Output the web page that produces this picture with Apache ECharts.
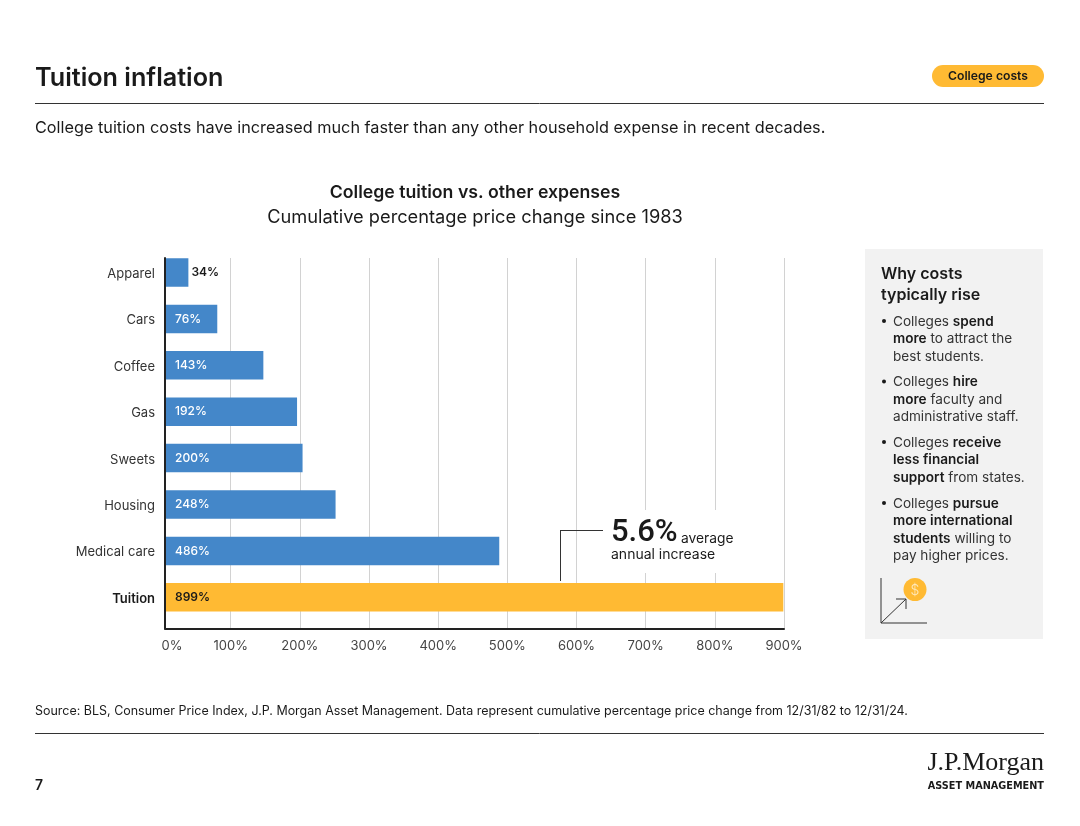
<!DOCTYPE html>
<html>
<head>
<meta charset="utf-8">
<title>Tuition inflation</title>
<script src="https://cdn.jsdelivr.net/npm/echarts@6/dist/echarts.min.js"></script>
<style>
  html, body { margin: 0; padding: 0; background: #fff; }
  #main { width: 1080px; height: 826px; }
</style>
</head>
<body>
<div id="main"></div>
<script>
var categories = ['Apparel', 'Cars', 'Coffee', 'Gas', 'Sweets', 'Housing', 'Medical care', 'Tuition'];
var values = [34, 76, 143, 192, 200, 248, 486, 899];
var tickValues = [0, 100, 200, 300, 400, 500, 600, 700, 800, 900];

var pageTitle = 'Tuition inflation';
var tagText = 'College costs';
var subtitle = 'College tuition costs have increased much faster than any other household expense in recent decades.';
var chartTitle = 'College tuition vs. other expenses';
var chartSubtitle = 'Cumulative percentage price change since 1983';
var sourceText = 'Source: BLS, Consumer Price Index, J.P. Morgan Asset Management. Data represent cumulative percentage price change from 12/31/82 to 12/31/24.';
var sideTitle = 'Why costs\ntypically rise';
// {b|..} is the bold run of each bullet
var sideBullets = [
    'Colleges {b|spend}\n{b|more} to attract the\nbest students.',
    'Colleges {b|hire}\n{b|more} faculty and\nadministrative staff.',
    'Colleges {b|receive}\n{b|less financial}\n{b|support} from states.',
    'Colleges {b|pursue}\n{b|more international}\n{b|students} willing to\npay higher prices.'
];

var FONT = 'Inter';
var INK = '#1a1a1a';
var BLUE = '#4487c9';
var YELLOW = '#ffba33';

var barData = values.map(function (v, i) {
    var label = { show: true, position: 'insideLeft', distance: 10, padding: [2, 0, 0, 0], color: '#fff', fontFamily: FONT, fontSize: 12, fontWeight: 500, formatter: '{c}%' };
    var item = { value: v, itemStyle: { color: BLUE }, label: label };
    if (categories[i] === 'Tuition') {
        item.itemStyle.color = YELLOW;
        label.color = INK;
        label.fontWeight = 600;
    }
    if (categories[i] === 'Apparel') {
        label.position = 'right';
        label.distance = 3;
        label.color = INK;
        label.fontWeight = 600;
    }
    return item;
});

function text(x, y, str, size, weight, extra) {
    var style = { x: x, y: y, text: str, fontFamily: FONT, fontSize: size, fontWeight: weight, fill: INK, textVerticalAlign: 'middle' };
    for (var k in extra) {
        style[k] = extra[k];
    }
    return { type: 'text', z: 5, style: style };
}

function seg(x1, y1, x2, y2) {
    return { type: 'line', z: 5, shape: { x1: x1, y1: y1, x2: x2, y2: y2 }, style: { stroke: '#333', lineWidth: 1 } };
}

var bulletTops = [313, 373.5, 434, 495];
var graphics = [
    text(35, 78, pageTitle, 25.2, 600),
    { type: 'rect', z: 5, shape: { x: 932, y: 65, width: 112, height: 22, r: 11 }, style: { fill: YELLOW } },
    text(988, 76.5, tagText, 12.2, 600, { textAlign: 'center' }),
    seg(35, 103.5, 1044, 103.5),
    text(35, 128, subtitle, 16.25, 400),
    text(475, 193, chartTitle, 17.7, 600, { textAlign: 'center' }),
    text(475, 218, chartSubtitle, 18.25, 400, { textAlign: 'center' }),

    // white patch behind the callout, hides the gridlines
    { type: 'rect', z: 1, shape: { x: 604, y: 510, width: 134, height: 63 }, style: { fill: '#fff' } },
    seg(560.5, 530.5, 603, 530.5),
    seg(560.5, 530, 560.5, 581),
    text(611, 533, '5.6%', 31, 500, { fontFamily: 'Roboto' }),
    text(681, 539, 'average', 13.8, 400),
    text(611, 555, 'annual increase', 14, 400),

    { type: 'rect', z: 4, shape: { x: 865, y: 249, width: 178, height: 390 }, style: { fill: '#f2f2f2' } },
    text(881, 284.5, sideTitle, 16, 600, { lineHeight: 21.5 }),

    // chart icon
    seg(881, 578, 881, 623),
    seg(881, 623, 927, 623),
    seg(881, 623, 906, 599),
    seg(896, 599, 906, 599),
    seg(906, 599, 906, 609),
    { type: 'circle', z: 5, shape: { cx: 915, cy: 589.5, r: 11.5 }, style: { fill: YELLOW } },
    text(915, 590.5, '$', 14, 300, { textAlign: 'center', fill: '#ffeac2' }),

    text(35, 711, sourceText, 12.47, 400),
    seg(35, 733.5, 1044, 733.5),
    text(35, 785.5, '7', 14, 600),
    text(1044, 763, 'J.P.Morgan', 26, 400, { textAlign: 'right', fontFamily: 'Liberation Serif' }),
    text(1044, 786, 'ASSET MANAGEMENT', 10.8, 700, { textAlign: 'right', fontFamily: 'DejaVu Sans Condensed' })
];

sideBullets.forEach(function (b, i) {
    graphics.push({ type: 'circle', z: 5, shape: { cx: 884, cy: bulletTops[i] + 8, r: 2 }, style: { fill: INK } });
    graphics.push({
        type: 'text',
        z: 5,
        style: {
            x: 893,
            y: bulletTops[i],
            rich: {
                b: { fontFamily: FONT, fontSize: 13.6, fontWeight: 600, fill: INK, lineHeight: 17.5 }
            },
            text: b,
            fontFamily: FONT,
            fontSize: 13.6,
            lineHeight: 17.5,
            fill: '#333'
        }
    });
});

var chartDom = document.getElementById('main');
var myChart = echarts.init(chartDom);
var option = {
    animation: false,
    textStyle: { fontFamily: FONT },
    // grid 0 holds the bars, grid 1 the gridlines and tick labels (the source has them slightly out of step)
    grid: [
        { left: 165, width: 619, top: 249.3, height: 371.2 },
        { left: 161.5, width: 622.5, top: 258, height: 370.5 }
    ],
    xAxis: [
        {
            gridIndex: 0,
            type: 'value',
            min: 0,
            max: 900,
            offset: 8,
            z: 3,
            axisLine: { show: true, lineStyle: { color: '#222', width: 2 } },
            axisTick: { show: false },
            axisLabel: { show: false },
            splitLine: { show: false }
        },
        {
            gridIndex: 1,
            type: 'value',
            min: tickValues[0],
            max: tickValues[tickValues.length - 1],
            interval: 100,
            axisLine: { show: false },
            axisTick: { show: false },
            axisLabel: {
                color: '#444',
                fontFamily: FONT,
                fontSize: 13,
                margin: 11,
                alignMinLabel: 'left',
                formatter: '{value}%'
            },
            splitLine: { show: true, showMinLine: false, lineStyle: { color: '#d2d2d2', width: 1 } }
        }
    ],
    yAxis: [
        {
            gridIndex: 0,
            type: 'category',
            inverse: true,
            data: categories,
            axisLine: { show: false },
            axisTick: { show: false },
            axisLabel: {
                margin: 10,
                padding: [3, 0, 0, 0],
                color: '#333',
                fontFamily: FONT,
                fontSize: 13,
                formatter: function (v) {
                    return v === 'Tuition' ? '{b|' + v + '}' : v;
                },
                rich: {
                    b: { fontFamily: FONT, fontSize: 13, fontWeight: 600, color: INK }
                }
            }
        },
        {
            gridIndex: 1,
            type: 'value',
            offset: -3.5,
            z: 3,
            axisLine: { show: true, lineStyle: { color: '#222', width: 2 } },
            axisTick: { show: false },
            axisLabel: { show: false },
            splitLine: { show: false }
        }
    ],
    series: [
        {
            type: 'bar',
            xAxisIndex: 0,
            yAxisIndex: 0,
            barWidth: 28.5,
            data: barData
        }
    ],
    graphic: graphics
};
myChart.setOption(option);
</script>
</body>
</html>
